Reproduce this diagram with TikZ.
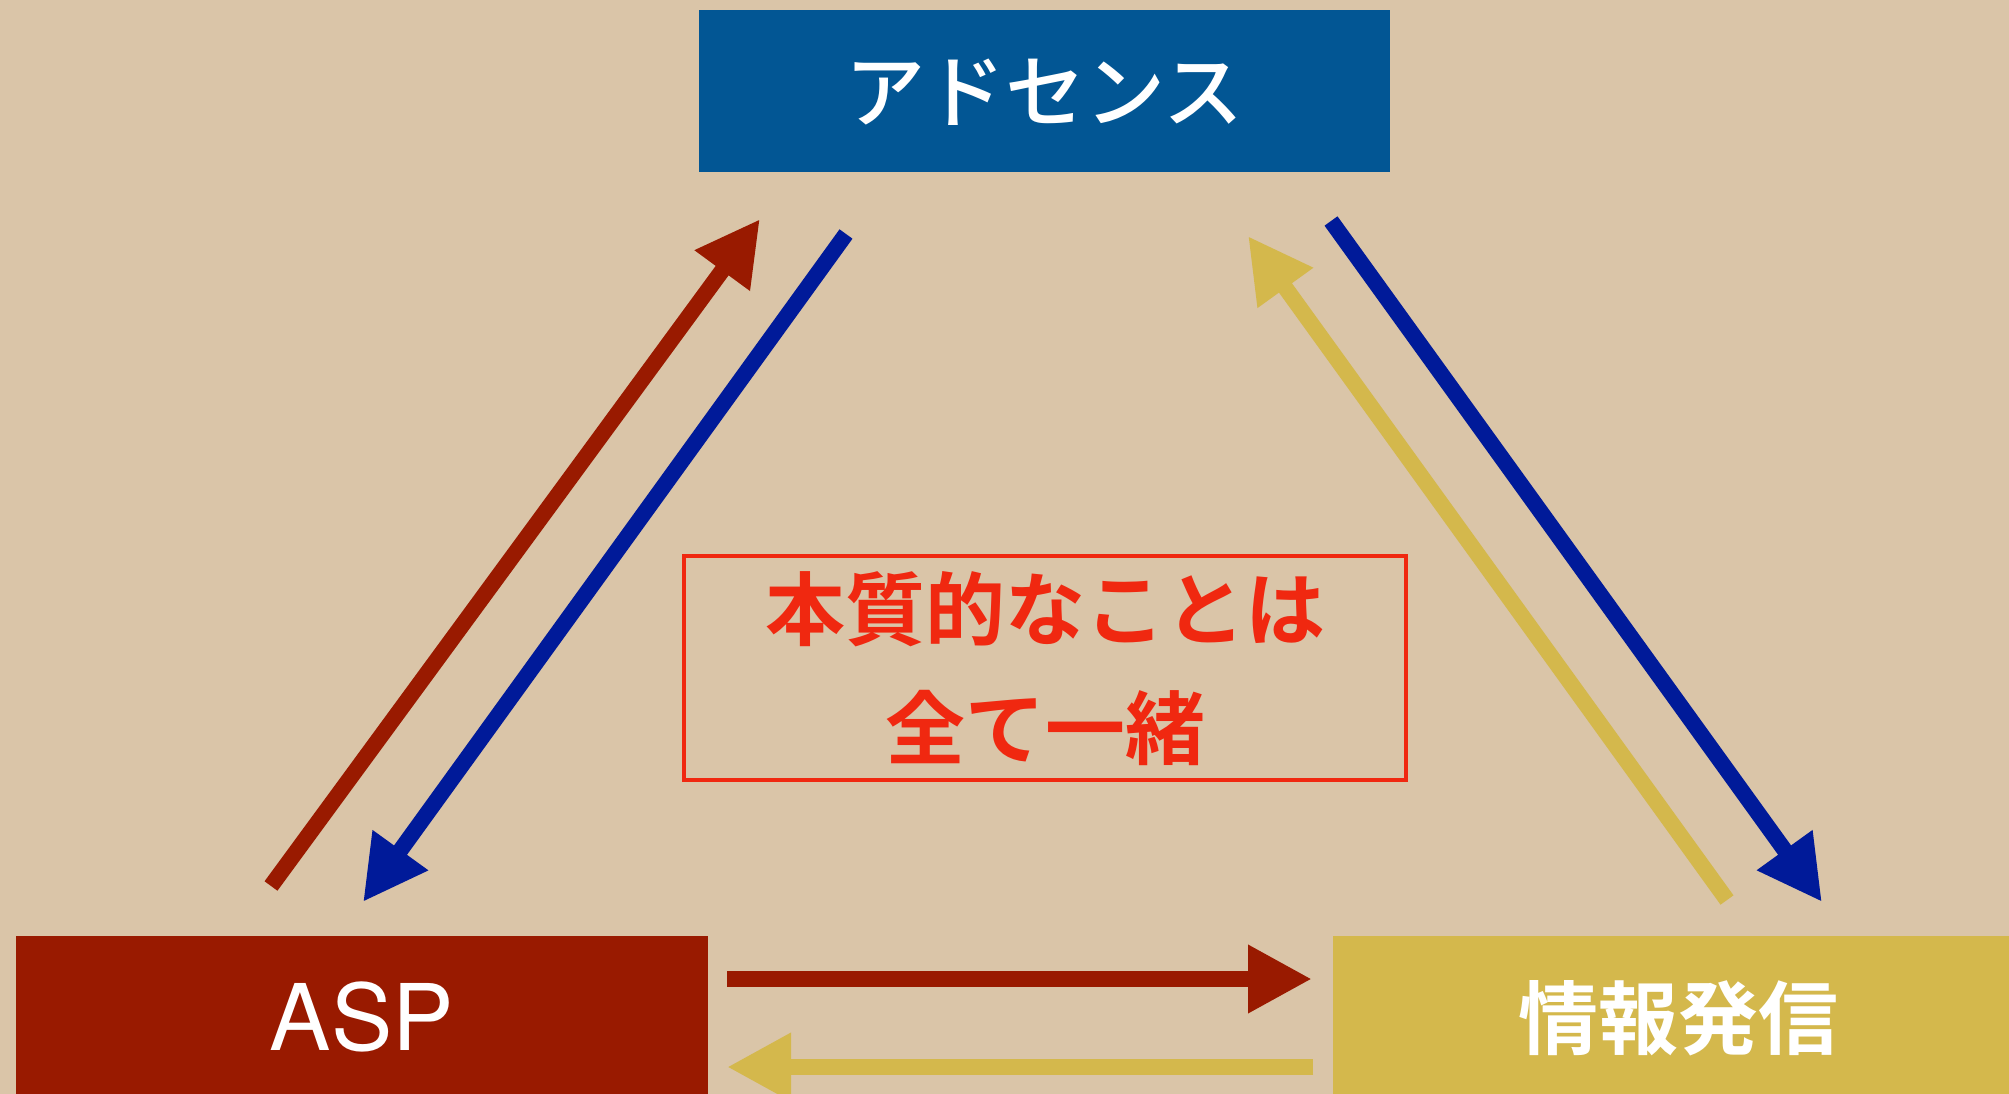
\documentclass[tikz,border=0pt]{standalone}
\usepackage{fontspec}
\newfontfamily\jpmed{Noto Sans CJK JP Medium}
\newfontfamily\jpbold{Noto Sans CJK JP Bold}
\newfontfamily\lat{TeX Gyre Heros}
\usetikzlibrary{arrows.meta}
\definecolor{paper}{RGB}{218,197,168}
\definecolor{adsblue}{RGB}{2,86,148}
\definecolor{aspred}{RGB}{153,26,0}
\definecolor{infoyel}{RGB}{212,184,76}
\definecolor{arrblue}{RGB}{0,26,153}
\definecolor{corered}{RGB}{240,40,16}
\tikzset{
  box/.style={rectangle, minimum width=691pt, minimum height=162pt, inner sep=0pt, text=white},
  jpmedtext/.style={font=\jpmed\fontsize{80}{80}\selectfont, text height=62pt, text depth=0pt, inner sep=0pt},
  jpboldtext/.style={font=\jpbold\fontsize{80}{80}\selectfont, text height=62pt, text depth=0pt, inner sep=0pt},
  flow/.style={line width=16pt, line cap=butt, -{Triangle[length=64pt,width=64pt]}},
}
\begin{document}
\begin{tikzpicture}[x=1pt,y=-1pt]
\useasboundingbox (0,0) rectangle (2009,1094);
\fill[paper] (0,0) rectangle (2009,1094);
% boxes
\node[box, fill=adsblue, jpmedtext, minimum width=691pt, minimum height=162pt] (ads) at (1044.5,91) {アドセンス};
\node[box, fill=aspred, font=\lat\fontsize{92}{92}\selectfont, text height=66pt, text depth=0pt, minimum width=692pt, minimum height=162pt] (asp) at (362,1017) {ASP};
\node[box, fill=infoyel, jpboldtext, minimum width=691pt, minimum height=162pt] (info) at (1678.5,1017) {情報発信};
% core message
\node[draw=corered, line width=4pt, minimum width=722pt, minimum height=224pt, inner sep=0pt] (core) at (1045,668) {};
\node[jpboldtext, text=corered] (l1) at (1045,608) {本質的なことは};
\node[jpboldtext, text=corered] (l2) at (1045,727) {全て一緒};
% arrow end points
\coordinate (a1s) at (271,886);  \coordinate (a1e) at (760,219);
\coordinate (a2s) at (846,234);  \coordinate (a2e) at (363,902);
\coordinate (a3s) at (1331,221); \coordinate (a3e) at (1822,902);
\coordinate (a4s) at (1727,900); \coordinate (a4e) at (1248,236);
\coordinate (a5s) at (727,979);  \coordinate (a5e) at (1312,979);
\coordinate (a6s) at (1313,1067);\coordinate (a6e) at (727,1067);
\draw[flow, aspred] (a1s) -- (a1e);
\draw[flow, arrblue] (a2s) -- (a2e);
\draw[flow, arrblue] (a3s) -- (a3e);
\draw[flow, infoyel] (a4s) -- (a4e);
\draw[flow, aspred] (a5s) -- (a5e);
\draw[flow, infoyel] (a6s) -- (a6e);
\end{tikzpicture}
\end{document}
